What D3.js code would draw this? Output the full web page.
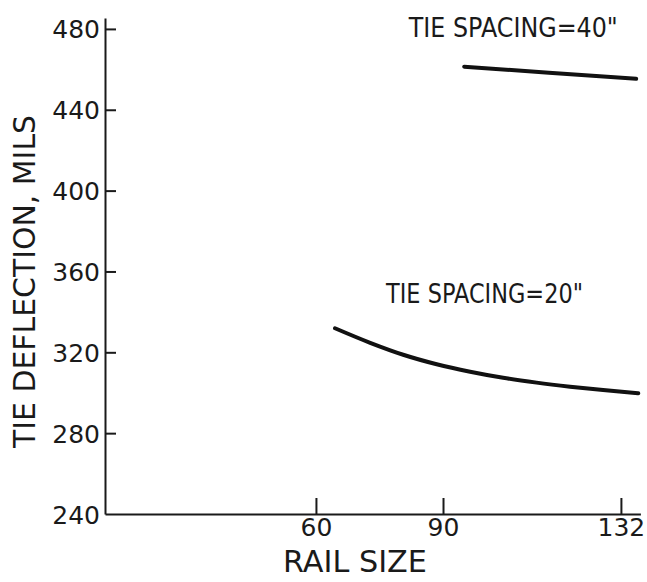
<!DOCTYPE html>
<html>
<head>
  <meta charset="utf-8">
  <title>Tie deflection vs rail size</title>
  <script src="https://d3js.org/d3.v7.min.js"></script>
  <style>
    body { margin: 0; background: #fff; }
    text { font-family: "DejaVu Sans", sans-serif; fill: #1a1a1a; }
  </style>
</head>
<body>
  <script>
    // data
    const railTicks = [60, 90, 132];
    const deflTicks = [240, 280, 320, 360, 400, 440, 480];

    const rail20 = [64.5, 72.8, 80.6, 88.5, 96.4, 104.2, 112.1, 120.0, 127.8, 136.1];
    const defl20 = [331.9, 324.7, 318.8, 314.1, 310.4, 307.4, 305.0, 303.0, 301.3, 299.7];

    const rail40 = [95.0, 115.0, 135.6];
    const defl40 = [461.3, 458.3, 455.3];

    const labels = [
      {text: 'TIE SPACING=40"', rail: 106.6, defl: 476, len: 209},
      {text: 'TIE SPACING=20"', rail: 99.8, defl: 344.5, len: 197}
    ];

    const width = 647, height = 582;

    const svg = d3.select("body").append("svg")
        .attr("width", width)
        .attr("height", height);

    const x = d3.scaleLinear().domain([10.2, 136.6]).range([105, 640.4]);
    const y = d3.scaleLinear().domain([240, 485.4]).range([514, 18]);

    // y axis, ticks pointing inward
    const yAxis = svg.append("g")
        .attr("transform", `translate(${x(10.2)},0)`)
        .call(d3.axisLeft(y).tickValues(deflTicks).tickSizeInner(-11).tickSizeOuter(0).tickPadding(5));
    yAxis.selectAll("text").style("font-size", "25px").attr("dy", "0.36em");
    yAxis.selectAll(".tick").filter(d => d === 240).select("line").remove();

    // x axis
    const xAxis = svg.append("g")
        .attr("transform", `translate(0,${y(240)})`)
        .call(d3.axisBottom(x).tickValues(railTicks).tickSizeInner(-16).tickSizeOuter(0).tickPadding(4));
    xAxis.selectAll("text").style("font-size", "25px");

    svg.selectAll(".domain").attr("stroke", "#1a1a1a").attr("stroke-width", 2);
    svg.selectAll(".tick line").attr("stroke", "#1a1a1a").attr("stroke-width", 2);

    // curves
    const line = d3.line()
        .x(d => x(d[0]))
        .y(d => y(d[1]))
        .curve(d3.curveMonotoneX);

    [[rail20, defl20], [rail40, defl40]].forEach(function(s) {
      svg.append("path")
          .datum(s[0].map((r, i) => [r, s[1][i]]))
          .attr("d", line)
          .attr("fill", "none")
          .attr("stroke", "#111")
          .attr("stroke-width", 4)
          .attr("stroke-linecap", "round");
    });

    // curve labels
    svg.selectAll(".note")
        .data(labels)
        .enter().append("text")
          .attr("class", "note")
          .attr("x", d => x(d.rail))
          .attr("y", d => y(d.defl))
          .attr("text-anchor", "middle")
          .attr("textLength", d => d.len)
          .attr("lengthAdjust", "spacingAndGlyphs")
          .style("font-size", "26px")
          .text(d => d.text);

    // axis titles
    svg.append("text")
        .attr("x", 355)
        .attr("y", 572)
        .attr("text-anchor", "middle")
        .attr("textLength", 144)
        .attr("lengthAdjust", "spacingAndGlyphs")
        .style("font-size", "31px")
        .text("RAIL SIZE");

    svg.append("text")
        .attr("transform", "translate(35,281.5) rotate(-90)")
        .attr("text-anchor", "middle")
        .attr("textLength", 333)
        .attr("lengthAdjust", "spacingAndGlyphs")
        .style("font-size", "31px")
        .text("TIE DEFLECTION, MILS");
  </script>
</body>
</html>
